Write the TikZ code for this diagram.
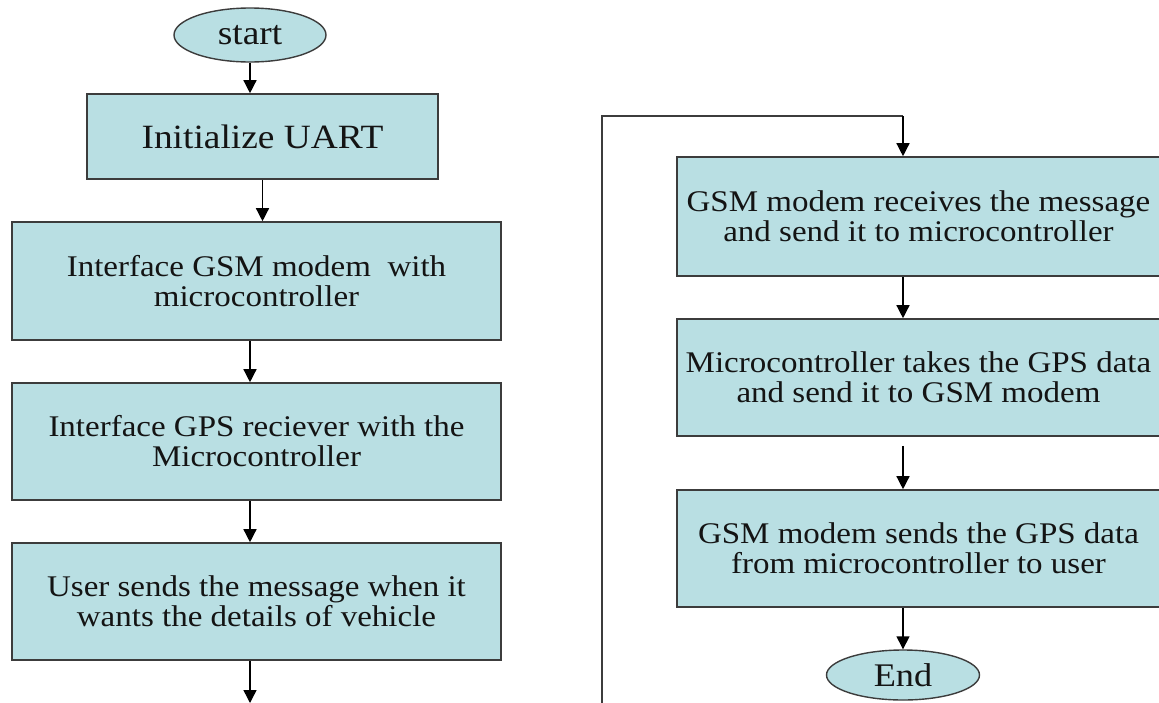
\documentclass[tikz,border=0pt]{standalone}
\usepackage{fontspec}
\setmainfont{Liberation Serif}[FakeStretch=1.1]
\usetikzlibrary{arrows.meta,calc,shapes.geometric}
\definecolor{boxfill}{HTML}{B9DFE3}
\definecolor{boxline}{HTML}{3C3C3C}
\definecolor{txt}{HTML}{141414}
\begin{document}
\begin{tikzpicture}[x=1pt,y=-1pt,
  stepbox/.style={draw=boxline,line width=1.6pt,fill=boxfill,rectangle,inner sep=0pt,
    align=center,text=txt,font=\fontsize{30}{30}\selectfont},
  term/.style={draw=boxline,line width=1.4pt,fill=boxfill,ellipse,inner sep=0pt,
    text=txt,font=\fontsize{33}{33}\selectfont},
  arr/.style={line width=1.4pt,draw=black,-{Triangle[width=13pt,length=13pt]}},
  ln/.style={line width=1.4pt,draw=boxline}]
\useasboundingbox (0,0) rectangle (1159,702);
\clip (0,0) rectangle (1159,702);
\fill[white] (0,0) rectangle (1159,702);
% left column
\node[term,minimum width=152pt,minimum height=54pt,font=\fontsize{34}{34}\selectfont] (s) at (250,35) {start};
\node[stepbox,minimum width=351pt,minimum height=85pt,font=\fontsize{34}{34}\selectfont] (b1) at (262.5,136.5) {Initialize UART};
\node[stepbox,minimum width=489pt,minimum height=118pt] (b2) at (256.5,281) {Interface GSM modem\ \ with\\microcontroller};
\node[stepbox,minimum width=489pt,minimum height=117pt] (b3) at (256.5,441.5) {Interface GPS reciever with the\\Microcontroller};
\node[stepbox,minimum width=489pt,minimum height=117pt] (b4) at (256.5,601.5) {User sends the message when it\\wants the details of vehicle};
% right column
\node[stepbox,minimum width=483pt,minimum height=119pt] (b5) at (918.5,216.5) {GSM modem receives the message\\and send it to microcontroller};
\node[stepbox,minimum width=483pt,minimum height=117pt] (b6) at (918.5,377.5) {Microcontroller takes the GPS data\\and send it to GSM modem};
\node[stepbox,minimum width=483pt,minimum height=117pt] (b7) at (918.5,548.5) {GSM modem sends the GPS data\\from microcontroller to user};
\node[term,minimum width=153pt,minimum height=50pt] (e) at (903,675) {End};
% free ends and bends
\coordinate (out) at (250,703);
\coordinate (lp) at (602,703);
\coordinate (c1) at (602,116);
\coordinate (c2) at (903,116);
% connectors
\draw[arr] (s.south) -- (b1.north -| s);
\draw[arr] (b1.south) -- (b1.south |- b2.north);
\draw[arr] (b2.south -| s) -- (b3.north -| s);
\draw[arr] (b3.south -| s) -- (b4.north -| s);
\draw[arr] (b4.south -| s) -- (out);
\draw[ln] (lp) -- (c1) -- (c2);
\draw[arr] (c2) -- (b5.north -| c2);
\draw[arr] (b5.south -| e) -- (b6.north -| e);
\draw[arr] ($(b6.south -| e)+(0,9)$) -- (b7.north -| e);
\draw[arr] (b7.south -| e) -- (e.north);
\end{tikzpicture}
\end{document}
